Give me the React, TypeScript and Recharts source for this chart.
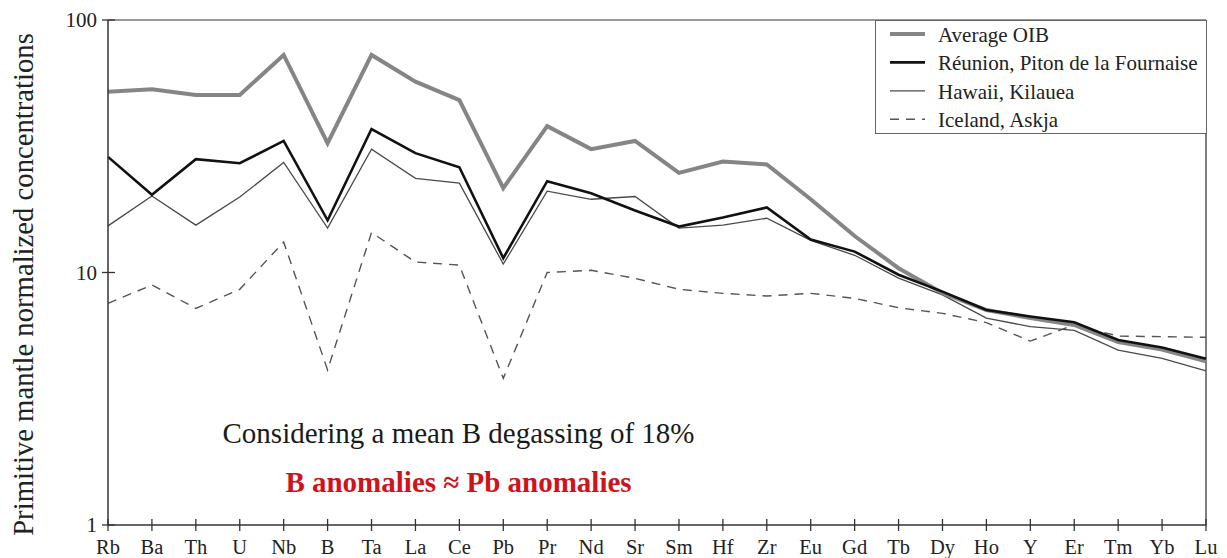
import React from 'react';
import { LineChart, Line, XAxis, YAxis, ReferenceLine, Legend } from 'recharts';

const elements = ['Rb','Ba','Th','U','Nb','B','Ta','La','Ce','Pb','Pr','Nd','Sr','Sm','Hf','Zr','Eu','Gd','Tb','Dy','Ho','Y','Er','Tm','Yb','Lu'];
const averageOIB = [52.0, 53.2, 50.5, 50.5, 72.7, 32.5, 72.7, 57.0, 48.2, 21.6, 38.0, 30.8, 33.2, 24.8, 27.5, 26.8, 19.5, 13.95, 10.4, 8.3, 7.1, 6.6, 6.2, 5.3, 4.95, 4.45];
const reunion = [28.7, 20.3, 28.1, 27.1, 33.2, 16.1, 37.0, 29.7, 26.1, 11.4, 23.0, 20.6, 17.6, 15.2, 16.5, 18.1, 13.5, 12.1, 9.8, 8.4, 7.1, 6.7, 6.35, 5.4, 5.05, 4.55];
const hawaii = [15.3, 20.1, 15.4, 19.9, 27.3, 15.0, 30.8, 23.6, 22.6, 10.8, 21.0, 19.5, 20.0, 15.0, 15.4, 16.4, 13.4, 11.7, 9.5, 8.15, 6.6, 6.1, 5.9, 4.93, 4.57, 4.08];
const iceland = [7.55, 8.92, 7.21, 8.58, 13.2, 4.11, 14.4, 11.0, 10.7, 3.81, 10.0, 10.2, 9.48, 8.58, 8.27, 8.07, 8.27, 7.9, 7.25, 6.89, 6.33, 5.35, 6.2, 5.6, 5.57, 5.54];
const yTicks = [1, 10, 100];

const seriesNames = {
  oib: 'Average OIB',
  reunion: 'Réunion, Piton de la Fournaise',
  hawaii: 'Hawaii, Kilauea',
  iceland: 'Iceland, Askja',
};

const data = elements.map((el, i) => ({
  el,
  oib: averageOIB[i],
  reunion: reunion[i],
  hawaii: hawaii[i],
  iceland: iceland[i],
}));

const FONT = 'Liberation Serif, Tinos, DejaVu Serif, Noto Serif, serif';

const styles = {
  oib: { stroke: '#858585', strokeWidth: 4, dash: undefined as string | undefined },
  reunion: { stroke: '#111111', strokeWidth: 2.6, dash: undefined as string | undefined },
  hawaii: { stroke: '#4a4a4a', strokeWidth: 1.3, dash: undefined as string | undefined },
  iceland: { stroke: '#555555', strokeWidth: 1.4, dash: '9 7' },
};

const XTick = (props: any) => {
  const { x, y, payload } = props;
  return (
    <g>
      <line x1={x} x2={x} y1={y - 6} y2={y + 6} stroke="#333" strokeWidth={1.3} />
      <text x={x} y={y + 29} textAnchor="middle" fill="#222" style={{ fontFamily: FONT, fontSize: 20.5 }}>
        {payload.value}
      </text>
    </g>
  );
};

const YTick = (props: any) => {
  const { x, y, payload } = props;
  return (
    <g>
      <line x1={x + 5} x2={x + 18} y1={y} y2={y} stroke="#333" strokeWidth={1.3} />
      <text x={x} y={y + 7} textAnchor="end" fill="#222" style={{ fontFamily: FONT, fontSize: 21 }}>
        {payload.value}
      </text>
    </g>
  );
};

const YLabel = () => (
  <text
    x={33}
    y={284.5}
    transform="rotate(-90 33 284.5)"
    textAnchor="middle"
    fill="#222"
    style={{ fontFamily: FONT, fontSize: 28.7 }}
  >
    Primitive mantle normalized concentrations
  </text>
);

const LegendBox = () => {
  const keys: (keyof typeof seriesNames)[] = ['oib', 'reunion', 'hawaii', 'iceland'];
  return (
    <div
      style={{
        width: 332,
        height: 114,
        boxSizing: 'border-box',
        border: '1.5px solid #666',
        background: '#fff',
      }}
    >
      <svg width={329} height={111} style={{ display: 'block' }}>
        {keys.map((k, i) => {
          const base = 21 + i * 28.4;
          const s = styles[k];
          return (
            <g key={k}>
              <line
                x1={14}
                x2={49}
                y1={base - 8}
                y2={base - 8}
                stroke={s.stroke}
                strokeWidth={s.strokeWidth}
                strokeDasharray={s.dash}
              />
              <text x={62} y={base} fill="#222" style={{ fontFamily: FONT, fontSize: 21 }}>
                {seriesNames[k]}
              </text>
            </g>
          );
        })}
      </svg>
    </div>
  );
};

export default function App() {
  return (
    <div style={{ position: 'absolute', left: 0, top: 0, width: 1227, height: 558, background: '#fff', fontFamily: FONT }}>
      <LineChart
        width={1227}
        height={558}
        data={data}
        margin={{ top: 20, right: 21, left: 0, bottom: 0 }}
      >
        <XAxis
          dataKey="el"
          interval={0}
          padding={{ left: 0, right: 0 }}
          height={33}
          tickSize={0}
          tickMargin={0}
          tickLine={false}
          axisLine={{ stroke: '#333', strokeWidth: 1.5 }}
          tick={<XTick />}
        />
        <YAxis
          scale="log"
          domain={[1, 100]}
          ticks={yTicks}
          allowDataOverflow
          width={108}
          tickSize={0}
          tickMargin={11}
          tickLine={false}
          axisLine={{ stroke: '#333', strokeWidth: 1.5 }}
          tick={<YTick />}
          label={<YLabel />}
        />
        <ReferenceLine y={100} stroke="#777" strokeWidth={1.5} />
        <ReferenceLine x="Lu" stroke="#555" strokeWidth={1.5} />
        <Legend
          layout="horizontal"
          verticalAlign="middle"
          align="center"
          wrapperStyle={{ position: 'absolute', left: 875, top: 20, width: 332, height: 114 }}
          content={<LegendBox />}
        />
        <Line dataKey="iceland" name={seriesNames.iceland} stroke={styles.iceland.stroke} strokeWidth={styles.iceland.strokeWidth} strokeDasharray={styles.iceland.dash} dot={false} isAnimationActive={false} />
        <Line dataKey="hawaii" name={seriesNames.hawaii} stroke={styles.hawaii.stroke} strokeWidth={styles.hawaii.strokeWidth} dot={false} isAnimationActive={false} />
        <Line dataKey="oib" name={seriesNames.oib} stroke={styles.oib.stroke} strokeWidth={styles.oib.strokeWidth} dot={false} isAnimationActive={false} />
        <Line dataKey="reunion" name={seriesNames.reunion} stroke={styles.reunion.stroke} strokeWidth={styles.reunion.strokeWidth} dot={false} isAnimationActive={false} />
      </LineChart>
      <svg
        width={1227}
        height={558}
        style={{ position: 'absolute', left: 0, top: 0, pointerEvents: 'none' }}
      >
        <text x={458.5} y={442.7} textAnchor="middle" fill="#1a1a1a" style={{ fontFamily: FONT, fontSize: 29 }}>
          Considering a mean B degassing of 18%
        </text>
        <text x={458.5} y={491.7} textAnchor="middle" fill="#d0121b" style={{ fontFamily: FONT, fontSize: 29, fontWeight: 'bold' }}>
          B anomalies ≈ Pb anomalies
        </text>
      </svg>
    </div>
  );
}
